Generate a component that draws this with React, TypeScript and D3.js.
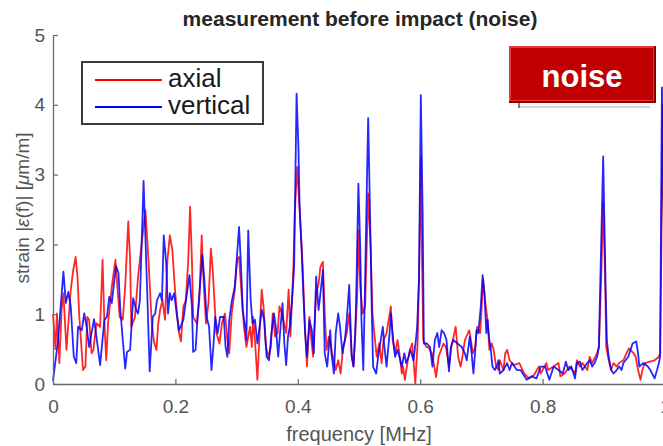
import React, { useEffect, useRef } from 'react';
import * as d3 from 'd3';

// values (frequency in MHz, strain in µm/m)
const axialFreq = [
  0, 0.004, 0.0065, 0.0104, 0.014, 0.017, 0.022, 0.029, 0.033, 0.037, 0.040, 0.043, 0.049, 0.053, 0.056, 0.059,
  0.063, 0.066, 0.071, 0.077, 0.081, 0.084, 0.087, 0.090, 0.096, 0.102, 0.106, 0.109, 0.114, 0.118, 0.123, 0.126,
  0.128, 0.134, 0.139, 0.146, 0.151, 0.156, 0.161, 0.165, 0.169, 0.172, 0.175, 0.179, 0.183, 0.187, 0.191, 0.195,
  0.199, 0.205, 0.209, 0.213, 0.217, 0.221, 0.224, 0.227, 0.229, 0.235, 0.239, 0.243, 0.245, 0.250, 0.254, 0.258,
  0.261, 0.265, 0.267, 0.272, 0.276, 0.281, 0.285, 0.288, 0.292, 0.297, 0.301, 0.304, 0.308, 0.312, 0.316, 0.322,
  0.325, 0.327, 0.330, 0.334, 0.341, 0.344, 0.348, 0.352, 0.356, 0.359, 0.363, 0.367, 0.370, 0.374, 0.381, 0.385,
  0.388, 0.393, 0.395, 0.399, 0.403, 0.408, 0.412, 0.415, 0.419, 0.421, 0.425, 0.430, 0.434, 0.437, 0.441, 0.444,
  0.447, 0.451, 0.455, 0.462, 0.466, 0.470, 0.474, 0.480, 0.484, 0.488, 0.491, 0.494, 0.497, 0.499, 0.502, 0.506,
  0.510, 0.515, 0.519, 0.522, 0.525, 0.529, 0.533, 0.537, 0.540, 0.545, 0.552, 0.555, 0.559, 0.563, 0.566, 0.570,
  0.572, 0.575, 0.579, 0.583, 0.587, 0.592, 0.596, 0.599, 0.601, 0.603, 0.605, 0.610, 0.613, 0.619, 0.626, 0.630,
  0.638, 0.642, 0.647, 0.651, 0.658, 0.662, 0.666, 0.669, 0.673, 0.680, 0.682, 0.686, 0.690, 0.693, 0.698, 0.703,
  0.706, 0.710, 0.713, 0.717, 0.720, 0.724, 0.728, 0.730, 0.736, 0.739, 0.742, 0.746, 0.753, 0.762, 0.770, 0.778,
  0.786, 0.794, 0.797, 0.806, 0.809, 0.818, 0.826, 0.829, 0.836, 0.844, 0.853, 0.856, 0.861, 0.865, 0.873, 0.877,
  0.881, 0.889, 0.892, 0.896, 0.899, 0.902, 0.904, 0.908, 0.912, 0.916, 0.921, 0.925, 0.932, 0.937, 0.941, 0.949,
  0.952, 0.956, 0.960, 0.963, 0.967, 0.975, 0.983, 0.990, 0.992, 0.994, 0.996, 1.0,
];
const axialStrain = [
  1.00, 0.50, 1.01, 0.30, 1.06, 1.30, 0.49, 1.35, 1.63, 1.82, 1.54, 0.96, 0.20, 0.25, 0.96, 0.92,
  0.44, 0.49, 0.87, 0.82, 1.78, 0.87, 0.34, 0.87, 1.39, 1.78, 1.30, 0.96, 0.92, 1.40, 2.33, 1.78,
  0.82, 0.96, 1.54, 2.10, 2.49, 1.78, 0.92, 0.60, 0.49, 0.87, 1.06, 1.20, 0.92, 1.78, 2.13, 1.92,
  1.39, 0.77, 0.61, 1.11, 1.20, 1.78, 2.54, 1.78, 0.96, 0.87, 1.20, 2.13, 1.63, 0.87, 1.16, 1.94,
  1.63, 1.01, 0.73, 0.58, 0.87, 1.01, 0.63, 0.44, 1.01, 1.35, 1.78, 1.82, 1.30, 0.82, 0.53, 0.82,
  0.53, 0.96, 0.63, 0.06, 1.35, 1.11, 0.53, 0.39, 0.53, 1.01, 0.68, 0.73, 1.11, 1.01, 0.73, 1.35,
  0.68, 1.73, 2.45, 3.11, 2.49, 1.68, 0.73, 0.25, 0.96, 0.73, 0.39, 1.30, 1.44, 1.68, 1.75, 1.01,
  0.49, 0.68, 0.49, 0.20, 0.34, 0.15, 0.53, 0.73, 1.01, 0.44, 0.25, 0.77, 1.25, 2.20, 1.40, 1.01,
  1.11, 2.73, 1.97, 1.01, 0.73, 0.39, 0.58, 0.30, 0.63, 0.73, 1.11, 0.63, 0.44, 0.63, 0.44, 0.15,
  0.25, 0.06, 0.30, 0.49, 0.58, 0.01, 0.63, 1.97, 3.25, 1.80, 0.63, 0.53, 0.53, 0.44, 0.10, 0.39,
  0.58, 0.53, 0.25, 0.53, 0.82, 0.39, 0.25, 0.39, 0.63, 0.77, 0.68, 0.44, 0.53, 0.82, 0.73, 1.49,
  1.20, 0.92, 0.49, 0.58, 0.49, 0.25, 0.20, 0.34, 0.20, 0.44, 0.49, 0.34, 0.27, 0.30, 0.15, 0.08,
  0.13, 0.25, 0.15, 0.30, 0.20, 0.25, 0.30, 0.11, 0.15, 0.25, 0.15, 0.34, 0.25, 0.30, 0.20, 0.39,
  0.30, 0.44, 0.53, 1.59, 2.60, 1.59, 0.53, 0.34, 0.20, 0.30, 0.25, 0.30, 0.34, 0.44, 0.51, 0.44,
  0.39, 0.20, 0.06, 0.20, 0.30, 0.32, 0.34, 0.39, 0.44, 1.87, 4.00, 1.00,
];

const verticalFreq = [
  0, 0.008, 0.017, 0.021, 0.025, 0.029, 0.034, 0.038, 0.041, 0.047, 0.051, 0.055, 0.059, 0.067, 0.071, 0.077,
  0.084, 0.088, 0.092, 0.096, 0.103, 0.107, 0.110, 0.115, 0.118, 0.121, 0.126, 0.131, 0.136, 0.139, 0.142, 0.148,
  0.154, 0.158, 0.163, 0.167, 0.170, 0.175, 0.178, 0.181, 0.185, 0.188, 0.191, 0.194, 0.198, 0.202, 0.206, 0.213,
  0.217, 0.223, 0.227, 0.229, 0.233, 0.236, 0.240, 0.244, 0.247, 0.251, 0.255, 0.259, 0.262, 0.265, 0.269, 0.273,
  0.279, 0.282, 0.285, 0.288, 0.292, 0.297, 0.304, 0.307, 0.310, 0.314, 0.316, 0.319, 0.323, 0.326, 0.330, 0.334,
  0.341, 0.345, 0.349, 0.353, 0.357, 0.361, 0.364, 0.368, 0.371, 0.375, 0.378, 0.381, 0.384, 0.387, 0.391, 0.394,
  0.398, 0.401, 0.403, 0.406, 0.409, 0.412, 0.415, 0.419, 0.423, 0.426, 0.430, 0.434, 0.437, 0.441, 0.444, 0.448,
  0.453, 0.455, 0.459, 0.462, 0.466, 0.469, 0.473, 0.477, 0.480, 0.484, 0.488, 0.491, 0.494, 0.496, 0.499, 0.502,
  0.504, 0.507, 0.510, 0.513, 0.515, 0.518, 0.521, 0.523, 0.528, 0.532, 0.539, 0.541, 0.545, 0.550, 0.552, 0.556,
  0.559, 0.563, 0.566, 0.570, 0.574, 0.577, 0.581, 0.584, 0.589, 0.593, 0.595, 0.598, 0.601, 0.604, 0.606, 0.611,
  0.616, 0.620, 0.624, 0.628, 0.631, 0.635, 0.639, 0.643, 0.647, 0.650, 0.654, 0.661, 0.668, 0.673, 0.676, 0.681,
  0.684, 0.687, 0.690, 0.692, 0.695, 0.699, 0.702, 0.705, 0.708, 0.710, 0.713, 0.715, 0.718, 0.722, 0.725, 0.728,
  0.730, 0.736, 0.742, 0.746, 0.750, 0.758, 0.764, 0.774, 0.782, 0.790, 0.797, 0.804, 0.811, 0.818, 0.826, 0.833,
  0.838, 0.842, 0.847, 0.853, 0.856, 0.861, 0.865, 0.869, 0.873, 0.877, 0.881, 0.885, 0.889, 0.892, 0.894, 0.899,
  0.903, 0.905, 0.908, 0.912, 0.916, 0.921, 0.925, 0.929, 0.932, 0.940, 0.947, 0.953, 0.956, 0.958, 0.965, 0.972,
  0.976, 0.983, 0.987, 0.990, 0.992, 0.995, 1.0,
];
const verticalStrain = [
  0.05, 0.60, 1.61, 1.16, 1.32, 1.11, 0.39, 0.30, 0.82, 0.77, 1.01, 0.82, 0.53, 0.93, 0.68, 0.27,
  0.92, 0.96, 1.25, 1.16, 1.69, 1.59, 1.06, 0.53, 0.22, 0.46, 0.49, 1.23, 1.06, 1.01, 1.20, 2.91,
  1.30, 0.18, 0.96, 1.01, 1.20, 1.30, 1.20, 2.13, 1.73, 1.01, 1.30, 1.20, 1.30, 1.01, 0.77, 0.92,
  1.18, 1.56, 1.11, 0.46, 0.49, 0.92, 1.39, 1.85, 1.54, 0.96, 0.82, 0.20, 0.53, 0.96, 0.73, 0.96,
  0.96, 0.53, 0.39, 0.92, 1.18, 1.39, 2.25, 1.73, 1.06, 0.82, 0.63, 2.20, 1.20, 0.87, 0.92, 0.58,
  1.06, 0.92, 0.39, 0.34, 0.73, 1.01, 0.82, 0.39, 0.73, 1.16, 0.58, 0.27, 0.68, 0.82, 1.25, 1.68,
  4.16, 3.40, 2.54, 1.97, 1.30, 0.73, 0.39, 0.92, 0.77, 0.44, 1.54, 1.06, 1.30, 1.63, 0.44, 0.25,
  0.77, 0.44, 0.15, 0.73, 1.01, 0.82, 0.44, 0.63, 0.92, 1.42, 0.39, 0.25, 0.73, 1.49, 2.87, 1.97,
  0.92, 0.20, 1.49, 2.92, 3.81, 2.45, 1.01, 0.25, 0.15, 0.44, 0.82, 0.58, 0.25, 0.73, 1.01, 0.63,
  0.39, 0.49, 0.39, 0.25, 0.44, 0.30, 0.39, 0.49, 0.34, 0.63, 0.82, 1.49, 4.14, 2.45, 0.58, 0.58,
  0.53, 0.25, 0.63, 0.73, 0.53, 0.77, 0.73, 0.63, 0.18, 0.53, 0.63, 0.58, 0.53, 0.44, 0.34, 0.68,
  0.44, 0.15, 0.49, 0.77, 0.73, 1.11, 1.56, 1.30, 0.73, 0.92, 0.63, 0.53, 0.25, 0.20, 0.25, 0.34,
  0.15, 0.20, 0.30, 0.20, 0.30, 0.20, 0.20, 0.06, 0.11, 0.08, 0.25, 0.25, 0.06, 0.25, 0.20, 0.15,
  0.32, 0.20, 0.25, 0.08, 0.30, 0.32, 0.20, 0.25, 0.30, 0.34, 0.25, 0.30, 0.39, 0.53, 1.35, 3.26,
  1.35, 0.63, 0.39, 0.20, 0.15, 0.20, 0.25, 0.20, 0.30, 0.39, 0.58, 0.61, 0.44, 0.25, 0.30, 0.25,
  0.20, 0.08, 0.20, 0.30, 0.39, 4.25, 1.00,
];

const xTicks = [0, 0.2, 0.4, 0.6, 0.8, 1];
const yTicks = [0, 1, 2, 3, 4, 5];
const seriesNames = ['axial', 'vertical'];
const seriesColors = ['#ff0000', '#0000ff'];

const App = () => {
  const svgRef = useRef<SVGSVGElement>(null);

  useEffect(() => {
    const svg = d3.select(svgRef.current);
    svg.selectAll('*').remove();

    const x = d3.scaleLinear().domain([0, 1]).range([53, 665]);
    const y = d3.scaleLinear().domain([0, 5]).range([384, 35]);
    const font = 'Liberation Sans, Arial, Helvetica, sans-serif';

    svg.append('rect').attr('width', 663).attr('height', 446).attr('fill', '#fff');

    // spectra (vertical drawn on top)
    const series = [
      { freq: axialFreq, strain: axialStrain },
      { freq: verticalFreq, strain: verticalStrain },
    ];
    const line = d3.line<[number, number]>()
      .x(d => x(d[0]))
      .y(d => y(d[1]));
    series.forEach((s, i) => {
      const pts: [number, number][] = s.freq.map((f, j) => [f, s.strain[j]]);
      svg.append('path')
        .attr('d', line(pts))
        .attr('fill', 'none')
        .attr('stroke', seriesColors[i])
        .attr('stroke-width', 1.8)
        .attr('stroke-linejoin', 'round')
        .attr('stroke-opacity', 0.85);
    });

    // axes, MATLAB style with inward ticks
    const yAxis = svg.append('g')
      .attr('transform', 'translate(53,0)')
      .call(d3.axisLeft(y).tickValues(yTicks).tickSizeInner(-5).tickSizeOuter(0).tickPadding(8).tickFormat(d3.format('d')));
    const xAxis = svg.append('g')
      .attr('transform', 'translate(0,384)')
      .call(d3.axisBottom(x).tickValues(xTicks).tickSizeInner(-5).tickSizeOuter(0).tickPadding(16)
        .tickFormat(d => (d === 0 || d === 1 ? String(d) : (d as number).toFixed(1))));
    [yAxis, xAxis].forEach(g => {
      g.select('.domain').attr('stroke', '#6a6a6a').attr('stroke-width', 1.3);
      g.selectAll('.tick line').attr('stroke', '#6a6a6a').attr('stroke-width', 1.2);
      g.selectAll('.tick text')
        .attr('fill', '#555')
        .style('font-family', font)
        .style('font-size', '19px');
    });

    // title and labels
    svg.append('text')
      .attr('x', 360).attr('y', 26)
      .attr('text-anchor', 'middle')
      .style('font-family', font).style('font-size', '21px').style('font-weight', 'bold')
      .attr('fill', '#262626')
      .text('measurement before impact (noise)');

    svg.append('text')
      .attr('x', 359).attr('y', 441)
      .attr('text-anchor', 'middle')
      .style('font-family', font).style('font-size', '20px')
      .attr('fill', '#555')
      .text('frequency [MHz]');

    const ylab = svg.append('text')
      .attr('transform', 'translate(29,208) rotate(-90)')
      .attr('text-anchor', 'middle')
      .style('font-family', font).style('font-size', '19px')
      .attr('fill', '#555');
    ylab.append('tspan').text('strain |');
    ylab.append('tspan').style('font-style', 'italic').text('ε');
    ylab.append('tspan').text('(f)| [');
    ylab.append('tspan').style('font-style', 'italic').text('μ');
    ylab.append('tspan').text('m/m]');

    // legend
    const leg = svg.append('g');
    leg.append('rect')
      .attr('x', 82).attr('y', 62).attr('width', 181).attr('height', 62)
      .attr('fill', '#fff').attr('stroke', '#3a3a3a').attr('stroke-width', 2);
    seriesNames.forEach((name, i) => {
      const ly = 80 + i * 27;
      leg.append('line')
        .attr('x1', 95).attr('x2', 162).attr('y1', ly).attr('y2', ly)
        .attr('stroke', seriesColors[i]).attr('stroke-width', 2);
      leg.append('text')
        .attr('x', 168).attr('y', ly + 7)
        .style('font-family', font).style('font-size', '26px')
        .attr('fill', '#1a1a1a')
        .text(name);
    });

    // "noise" badge
    const badge = svg.append('g');
    badge.append('line')
      .attr('x1', 519).attr('x2', 650).attr('y1', 107).attr('y2', 107)
      .attr('stroke', '#c8c8c8').attr('stroke-width', 1.5);
    badge.append('line')
      .attr('x1', 519).attr('x2', 519).attr('y1', 103).attr('y2', 108)
      .attr('stroke', '#333').attr('stroke-width', 1.2);
    badge.append('rect')
      .attr('x', 509).attr('y', 46).attr('width', 147).attr('height', 57)
      .attr('fill', '#8e0000');
    badge.append('rect')
      .attr('x', 509).attr('y', 46).attr('width', 145).attr('height', 55)
      .attr('fill', '#e23a3a');
    badge.append('rect')
      .attr('x', 511).attr('y', 48).attr('width', 142).attr('height', 52)
      .attr('fill', '#c00000');
    badge.append('text')
      .attr('x', 582).attr('y', 87)
      .attr('text-anchor', 'middle')
      .style('font-family', font).style('font-size', '31px').style('font-weight', 'bold')
      .attr('fill', '#fff')
      .text('noise');
  }, []);

  return (
    <svg
      ref={svgRef}
      width={663}
      height={446}
      style={{ position: 'absolute', left: 0, top: 0, display: 'block' }}
    />
  );
};

export default App;
